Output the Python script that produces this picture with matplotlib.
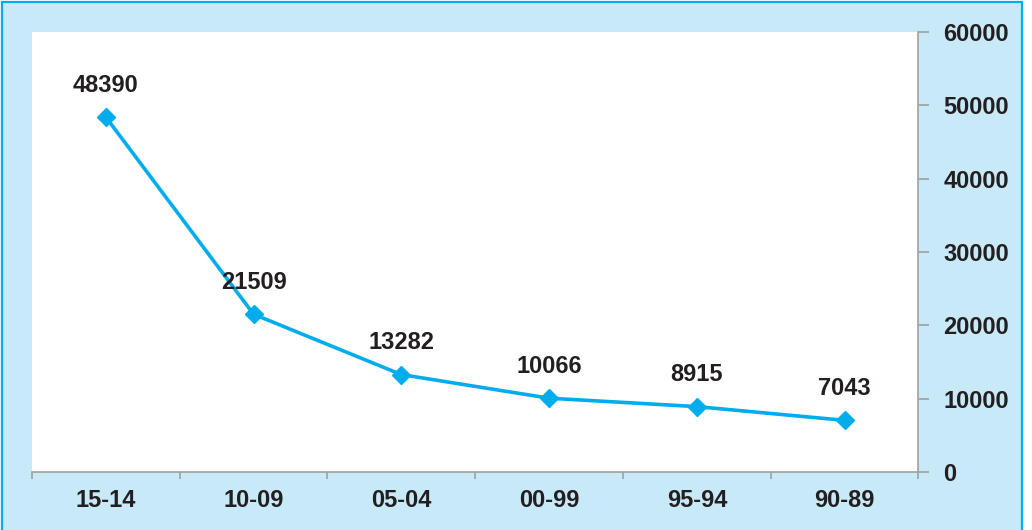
import matplotlib
matplotlib.use("Agg")
import matplotlib.pyplot as plt
from matplotlib.patches import Rectangle

categories = ["15-14", "10-09", "05-04", "00-99", "95-94", "90-89"]
values = [48390, 21509, 13282, 10066, 8915, 7043]
yticks = [0, 10000, 20000, 30000, 40000, 50000, 60000]

W, H = 1032, 530
BG = "#c7e9f8"
LINE = "#00acec"
TXT = "#231f20"
AX = "#a0a0a0"

plt.rcParams['font.family'] = ['Liberation Sans', 'DejaVu Sans']

fig = plt.figure(figsize=(W / 100, H / 100), dpi=100)
fig.patch.set_facecolor("white")
# outer light-blue panel with blue frame
fig.patches.append(Rectangle((1.5 / W, -0.05), (1022 - 1.5) / W, 1.05 - 1.5 / H,
                             transform=fig.transFigure, facecolor=BG,
                             edgecolor=LINE, linewidth=1.6, zorder=-10))

left, right, top, bottom = 32, 918.5, 32, 472
ax = fig.add_axes([left / W, 1 - bottom / H, (right - left) / W, (bottom - top) / H])
ax.set_zorder(5)
ax.set_facecolor("white")

x = list(range(len(categories)))
ax.plot(x, values, color=LINE, linewidth=2.6, marker="D", markersize=9.5,
        markerfacecolor=LINE, markeredgecolor=LINE, zorder=3, clip_on=False)
for xi, v in zip(x, values):
    ax.annotate(str(v), (xi, v), xytext=(0, 23), textcoords="offset points",
                ha="center", va="center", fontsize=17, fontweight="bold", color=TXT)

ax.set_xlim(-0.5, len(categories) - 0.5)
ax.set_ylim(0, 60000)

ax.set_xticks([i - 0.5 for i in range(len(categories) + 1)])
ax.set_xticklabels([])
ax.set_xticks(x, minor=True)
ax.set_xticklabels(categories, minor=True)
ax.tick_params(axis="x", which="major", direction="out", length=5, width=1.2, color=AX)
ax.tick_params(axis="x", which="minor", length=0, pad=12, labelsize=17, labelcolor=TXT)
for lab in ax.get_xticklabels(minor=True):
    lab.set_fontweight("bold")

ax.yaxis.tick_right()
ax.set_yticks(yticks)
ax.set_yticklabels([str(t) for t in yticks])
ax.tick_params(axis="y", direction="out", length=8, width=1.2, color=AX, pad=10,
               labelsize=17, labelcolor=TXT)
for lab in ax.get_yticklabels():
    lab.set_fontweight("bold")

for s in ["top", "left"]:
    ax.spines[s].set_visible(False)
for s in ["bottom", "right"]:
    ax.spines[s].set_color(AX)
    ax.spines[s].set_linewidth(1.2)

fig.savefig("out.png", dpi=100, facecolor=fig.get_facecolor())
